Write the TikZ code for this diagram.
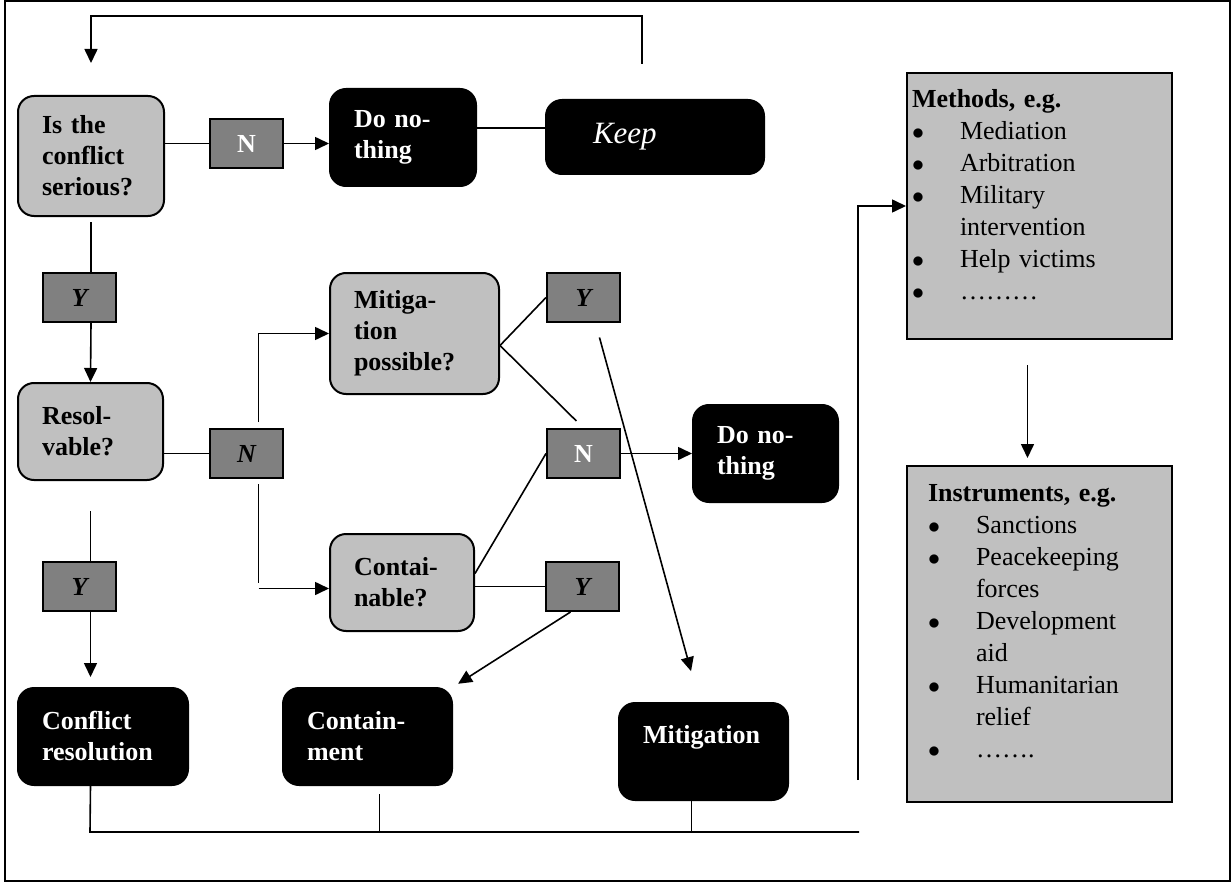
\documentclass[tikz,border=0pt]{standalone}
\usepackage{fontspec}
\setmainfont{Liberation Serif}
\usepackage{tikz}
\usetikzlibrary{arrows.meta}
\definecolor{lightbox}{RGB}{192,192,192}
\definecolor{tagbox}{RGB}{128,128,128}
\newcommand{\btxt}{\fontsize{13}{15.5}\selectfont\bfseries}
\newcommand{\ltxt}{\fontsize{13}{16}\selectfont}
\newcommand{\bul}{\makebox[24pt][l]{$\bullet$}}
\newcommand{\cont}{\hspace*{24pt}}
\tikzset{
	ask/.style={draw, line width=1pt, rounded corners=8pt, fill=lightbox, anchor=north west, align=left, inner xsep=12pt, minimum height=48.5pt, font=\btxt},
	act/.style={ask, fill=black, text=white},
	tag/.style={draw, line width=1pt, fill=tagbox, anchor=north west, minimum width=36.5pt, minimum height=24.5pt, inner sep=0pt, font=\btxt\itshape},
	listbox/.style={draw, line width=1pt, fill=lightbox, anchor=north west, inner ysep=0pt, text height=17.5pt, align=left, font=\ltxt},
	link/.style={line width=0.8pt},
	arrow/.style={link, -{Triangle[length=7pt,width=6.5pt]}}
}

\begin{document}
\begin{tikzpicture}[x=0.5pt,y=-0.5pt]
	\useasboundingbox (0,0) rectangle (1232,883);
	\draw[line width=1pt] (5,1) rectangle (1230,881);

	\node[ask, text width=49pt, minimum height=60pt] (serious) at (17,95) {Is the\\conflict\\serious?};
	\node[tag, text=white, font=\btxt] (nA) at (209,118) {N};
	\node[act, text width=49pt] (dnA) at (329,88) {Do no-\\thing};
	\node[act, text width=62pt, inner xsep=23.5pt, minimum height=37pt, font=\fontsize{15.5}{18}\selectfont\itshape] (keep) at (545,99) {Keep};
	\node[tag] (yA) at (42,272) {Y};
	\node[ask, text width=48.5pt] (resolv) at (17,382) {Resol-\\vable?};
	\node[tag] (nB) at (209,428) {N};
	\node[tag] (yB) at (42,561) {Y};
	\node[ask, text width=60.5pt, minimum height=60.5pt] (mitpos) at (329,272) {Mitiga-\\tion\\possible?};
	\node[ask, text width=48pt] (contble) at (329,533) {Contai-\\nable?};
	\node[tag] (yC) at (546,272) {Y};
	\node[tag, text=white, font=\btxt] (nC) at (546,428) {N};
	\node[act, text width=48.5pt] (dnB) at (692,404) {Do no-\\thing};
	\node[tag] (yD) at (545,561) {Y};
	\node[act, text width=61pt] (confres) at (17,687) {Conflict\\resolution};
	\node[act, text width=60.5pt] (contmt) at (282,687) {Contain-\\ment};
	\node[act, text width=60.5pt, text depth=17pt] (mitig) at (618,702) {Mitigation};
	\node[listbox, inner xsep=2.5pt, text width=127.5pt, text depth=115.5pt] (methods) at (906,72) {\textbf{Methods, e.g.}\\\bul Mediation\\\bul Arbitration\\\bul Military\\\cont intervention\\\bul Help victims\\\bul ………};
	\node[listbox, inner xsep=10.5pt, text width=111.5pt, text depth=150.5pt] (instr) at (906,465) {\textbf{Instruments, e.g.}\\\bul Sanctions\\\bul Peacekeeping\\\cont forces\\\bul Development\\\cont aid\\\bul Humanitarian\\\cont relief\\\bul …….};

	\coordinate (top) at (0,16);
	\coordinate (back) at (642,64);
	\coordinate (rise) at (858,780);
	\coordinate (busL) at (90,832);
	\coordinate (busR) at (859,832);

	\draw[arrow, shorten >=16pt] (back) |- (serious.north |- top) -- (serious.north);
	\draw[link] (serious.east |- nA) -- (nA);
	\draw[arrow] (nA) -- (nA -| dnA.west);
	\draw[link] ([yshift=4.5pt]keep.west -| dnA.east) -- ([yshift=4.5pt]keep.west);
	\draw[link, shorten <=2.5pt] (serious.south) -- (serious.south |- yA.north);
	\draw[arrow] (serious.south |- yA.south) -- (resolv.north);
	\draw[link, shorten <=15pt] (resolv.south) -- (resolv.south |- yB.north);
	\draw[arrow, shorten >=5pt] (resolv.south |- yB.south) -- (resolv.south |- confres.north);
	\draw[link] (resolv.east |- nB) -- (nB);
	\draw[arrow] ([xshift=6pt,yshift=3pt]nB.north) |- (mitpos.west);
	\draw[link, shorten <=2.5pt] ([xshift=6pt]nB.south) -- ([xshift=6pt]nB.south |- contble.west);
	\draw[arrow] ([xshift=6pt,yshift=-3pt]nB.south |- contble.west) -- ([yshift=-3pt]contble.west);
	\draw[link] ([yshift=-6pt]mitpos.east) -- (yC.west);
	\draw[link, shorten >=5pt] ([yshift=-6pt]mitpos.east) -- (nC.north);
	\draw[arrow] (nC) -- (nC -| dnB.west);
	\draw[link] ([yshift=4.5pt]contble.east) -- (nC.west);
	\draw[link] (contble.east |- yD) -- (yD);
	\draw[arrow, shorten >=3pt] ([xshift=-6pt]yD.south) -- (contmt.north east);
	\draw[arrow, shorten <=7.5pt, shorten >=16pt] ([xshift=6pt]yC.south) -- ([xshift=-2pt]mitig.north);
	\draw[link] (resolv.south |- confres.south) -- (busL) -- (busR);
	\draw[link] ([xshift=6pt,yshift=-4pt]contmt.south) -- ([xshift=6pt]contmt.south |- busL);
	\draw[link] ([xshift=-6pt]mitig.south) -- ([xshift=-6pt]mitig.south |- busL);
	\draw[arrow] (rise) |- (methods.west);
	\draw[arrow, shorten <=12.5pt, shorten >=3.5pt] ([xshift=-6pt]methods.south) -- ([xshift=-6pt]instr.north);
\end{tikzpicture}
\end{document}
